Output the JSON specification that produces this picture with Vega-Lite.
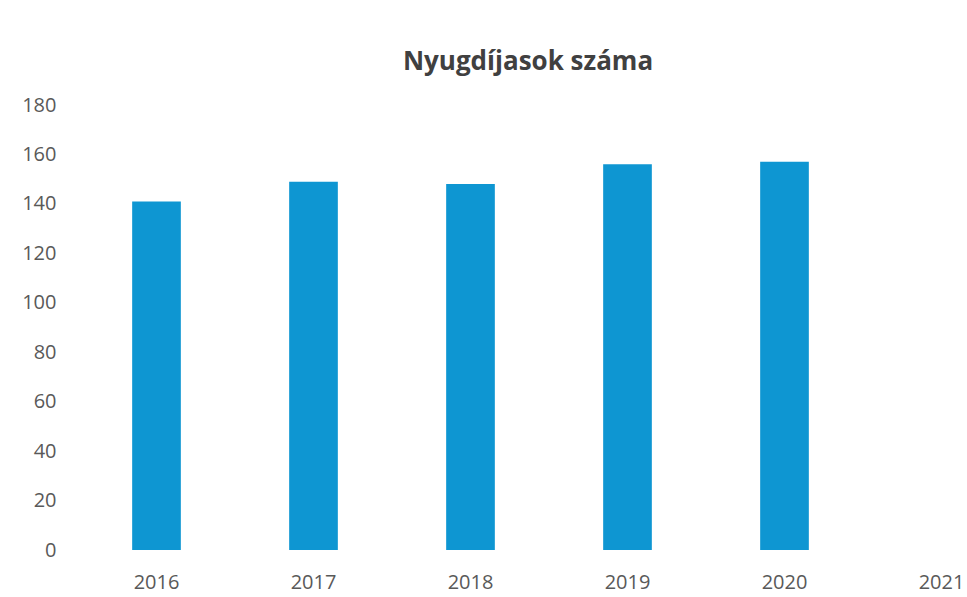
{
  "$schema": "https://vega.github.io/schema/vega-lite/v6.json",
  "autosize": "none",
  "padding": {"left": 78, "top": 105, "right": 0, "bottom": 47},
  "width": 942,
  "height": 445,
  "background": "white",
  "title": {
    "text": "Nyugdíjasok száma",
    "font": "Open Sans",
    "fontSize": 26,
    "fontWeight": "bold",
    "color": "#404040",
    "anchor": "middle",
    "dx": -21,
    "offset": 20
  },
  "data": {
    "values": [
      {"ev": "2016", "szam": 141},
      {"ev": "2017", "szam": 149},
      {"ev": "2018", "szam": 148},
      {"ev": "2019", "szam": 156},
      {"ev": "2020", "szam": 157}
    ]
  },
  "mark": {"type": "bar", "color": "#0E96D2"},
  "encoding": {
    "x": {
      "field": "ev",
      "type": "nominal",
      "sort": null,
      "scale": {"domain": ["2016", "2017", "2018", "2019", "2020", "2021"], "paddingInner": 0.69, "paddingOuter": 0.345},
      "axis": {
        "title": null,
        "labelAngle": 0,
        "domain": false,
        "ticks": false,
        "labelPadding": 22,
        "labelFont": "Open Sans",
        "labelFontSize": 20,
        "labelColor": "#595959"
      }
    },
    "y": {
      "field": "szam",
      "type": "quantitative",
      "scale": {"domain": [0, 180], "nice": false},
      "axis": {
        "title": null,
        "values": [0, 20, 40, 60, 80, 100, 120, 140, 160, 180],
        "grid": false,
        "domain": false,
        "ticks": false,
        "labelPadding": 22,
        "labelFont": "Open Sans",
        "labelFontSize": 20,
        "labelColor": "#595959"
      }
    }
  },
  "config": {"view": {"stroke": null}}
}
